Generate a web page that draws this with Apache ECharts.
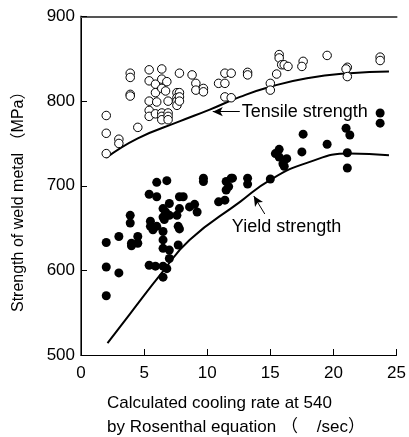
<!DOCTYPE html>
<html><head><meta charset="utf-8">
<script src="https://cdn.jsdelivr.net/npm/echarts@6/dist/echarts.min.js"></script>
<style>html,body{margin:0;padding:0;background:#fff}#c{width:409px;height:437px}</style>
</head><body><div id="c"></div>
<script>
var xTicks = [0, 5, 10, 15, 20, 25];
var yTicks = [500, 600, 700, 800, 900];
var tensilePoints = [
 [3.9,833],[3.9,828],[3.9,808],[3.9,806],[2.0,783],[2.0,762],[2.0,738],[4.5,769],[3.0,755],[3.0,750],
 [5.4,837],[6.4,838],[5.4,824],[5.9,820],[6.4,826],[6.8,823],[5.9,810],[6.4,815],[6.7,812],
 [5.4,800],[6.0,799],[6.9,800],[7.6,810],[7.8,810],[7.6,804],[7.6,800],[7.6,795],[7.8,805],[7.8,800],
 [5.4,789],[5.4,782],[5.9,785],[6.4,786],[6.4,782],[6.4,778],[6.9,786],[6.9,782],[6.9,778],
 [7.8,833],[8.8,831],[9.1,821],[9.1,813],[9.7,815],[9.7,811],[10.9,821],[11.4,833],[11.9,833],[11.4,821],[11.4,805],[11.9,804],
 [13.2,834],[13.2,831],[15.7,855],[15.7,851],[15.9,843],[16.1,843],[16.4,841],[15.5,832],[15.0,821],[15.0,813],
 [17.6,847],[17.5,841],[19.5,854],[21.1,840],[21.0,838],[21.1,829],[23.7,852],[23.7,848]
];
var yieldPoints = [
 [6.0,704],[6.8,706],[9.7,709],[9.7,705],[11.5,705],[11.9,709],[11.5,695],[11.7,699],
 [5.4,690],[6.0,687],[7.8,687],[8.1,687],[7.0,679],[6.5,673],[6.7,669],[6.5,663],[7.0,665],[6.6,660],
 [7.8,673],[7.6,665],[9.0,678],[9.2,669],[8.6,675],[10.9,681],[11.4,683],
 [3.9,665],[3.9,656],[5.5,658],[5.5,652],[5.7,648],[6.0,652],[6.5,646],[7.7,652],[7.8,649],
 [2.0,633],[3.0,640],[4.5,640],[4.0,632],[4.5,632],[4.0,629],
 [6.5,636],[6.5,626],[7.0,624],[7.0,614],[7.7,630],
 [2.0,604],[3.0,597],[5.4,606],[5.9,605],[6.5,605],[6.8,602],[6.5,592],[2.0,570],
 [23.7,786],[23.7,774],[17.6,761],[21.0,768],[21.3,760],[19.5,749],
 [15.7,743],[15.4,738],[15.7,734],[16.3,732],[16.0,726],[16.1,723],[17.5,740],[21.1,739],[21.1,721],
 [15.0,708],[13.2,709],[13.2,702],[12.0,709]
];
var tensileCurve = [[2,733],[4.5,756],[7.8,776],[10.2,790],[12.6,805],[15,817],[17.9,827],[21.3,833],[24.4,835]];
var yieldCurve = [[2.1,514],[3.9,549],[6.4,597],[8.6,636],[12.6,681],[15,707],[17.9,727],[21.3,738],[24.4,736]];
var tensileLabel = {text: 'Tensile strength', at: [12.74, 787.5], arrowFrom: [12.58, 787.5], arrowTo: [10.44, 787.5]};
var yieldLabel = {text: 'Yield strength', at: [11.95, 651.6], arrowFrom: [14.56, 666.6], arrowTo: [13.69, 687.9]};
var xNameLines = ['Calculated cooling rate at 540', 'by Rosenthal equation （    /sec）'];
var yName = 'Strength of weld metal （MPa）';

var FONT = '"Liberation Sans", Arial, "Noto Sans CJK SC", sans-serif';
var chart = echarts.init(document.getElementById('c'), null, {renderer: 'canvas'});
function annot(l) {
  return {
    silent: true,
    symbol: ['none', 'arrow'], symbolSize: [7, 10],
    lineStyle: {color: '#000', width: 1, type: 'solid'},
    label: {show: false},
    data: [[{coord: l.arrowFrom}, {coord: l.arrowTo}]]
  };
}
function annotText(l) {
  return {
    silent: true,
    symbol: 'circle', symbolSize: 0,
    label: {show: true, position: 'right', distance: 0, formatter: l.text, color: '#000', fontSize: 18, fontFamily: FONT},
    data: [{coord: l.at}]
  };
}
var option = {
  animation: false,
  backgroundColor: '#fff',
  grid: {left: 81, right: 12, top: 16.5, bottom: 82},
  xAxis: [{
    type: 'value', min: xTicks[0], max: xTicks[xTicks.length - 1], interval: 5,
    axisLine: {show: true, lineStyle: {color: '#000', width: 1}},
    axisTick: {show: true, inside: true, length: 6, lineStyle: {color: '#000'}},
    axisLabel: {margin: 10, fontSize: 17, color: '#000', fontFamily: FONT},
    splitLine: {show: false}
  }, {
    type: 'value', position: 'top', min: xTicks[0], max: xTicks[xTicks.length - 1],
    axisLine: {show: true, lineStyle: {color: '#555', width: 2}},
    axisTick: {show: false}, axisLabel: {show: false}, splitLine: {show: false}
  }],
  yAxis: [{
    type: 'value', min: yTicks[0], max: yTicks[yTicks.length - 1], interval: 100,
    axisLine: {show: true, lineStyle: {color: '#666', width: 2}},
    axisTick: {show: true, inside: true, length: 6, lineStyle: {color: '#000'}},
    axisLabel: {margin: 6, fontSize: 17, color: '#000', fontFamily: FONT},
    splitLine: {show: false},
    name: yName, nameLocation: 'middle', nameGap: 54, nameRotate: 90,
    nameTextStyle: {fontSize: 16, color: '#000', fontFamily: FONT, padding: [0, 0, 0, -24]}
  }, {
    type: 'value', position: 'right', min: yTicks[0], max: yTicks[yTicks.length - 1],
    axisLine: {show: true, lineStyle: {color: '#000', width: 1}},
    axisTick: {show: false}, axisLabel: {show: false}, splitLine: {show: false}
  }],
  graphic: [
    {type: 'text', left: 107, top: 395, style: {text: xNameLines[0], fontSize: 17, fill: '#000', fontFamily: FONT}},
    {type: 'text', left: 107, top: 419, style: {text: xNameLines[1], fontSize: 17, fill: '#000', fontFamily: FONT}}
  ],
  series: [
    {type: 'line', data: tensileCurve, smooth: true, symbol: 'none', lineStyle: {color: '#000', width: 2}, z: 2,
     markLine: annot(tensileLabel), markPoint: annotText(tensileLabel)},
    {type: 'line', data: yieldCurve, smooth: true, symbol: 'none', lineStyle: {color: '#000', width: 2}, z: 2,
     markLine: annot(yieldLabel), markPoint: annotText(yieldLabel)},
    {type: 'scatter', data: tensilePoints, symbol: 'circle', symbolSize: 8.5,
     itemStyle: {color: '#fff', borderColor: '#000', borderWidth: 1, opacity: 1}, z: 3},
    {type: 'scatter', data: yieldPoints, symbol: 'circle', symbolSize: 9,
     itemStyle: {color: '#000', opacity: 1}, z: 3}
  ]
};
chart.setOption(option);
</script></body></html>
